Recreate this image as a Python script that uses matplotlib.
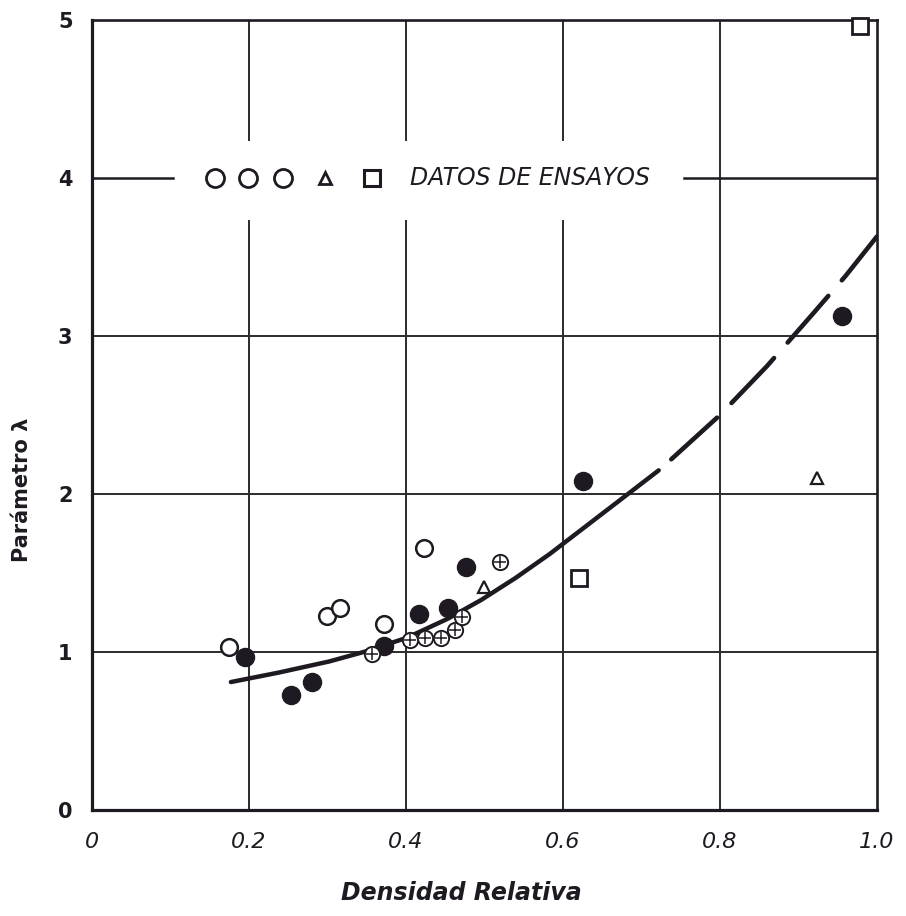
import matplotlib
matplotlib.use('Agg')
import matplotlib.pyplot as plt

# values
open_x = [0.175, 0.300, 0.316, 0.372, 0.423]
open_y = [1.03, 1.23, 1.28, 1.175, 1.66]

fill_x = [0.195, 0.254, 0.280, 0.372, 0.417, 0.453, 0.476, 0.625, 0.956]
fill_y = [0.97, 0.725, 0.81, 1.04, 1.24, 1.28, 1.54, 2.08, 3.13]

cross_x = [0.357, 0.405, 0.424, 0.445, 0.463, 0.472, 0.520]
cross_y = [0.99, 1.075, 1.09, 1.09, 1.14, 1.22, 1.57]

tri_x = [0.500, 0.924]
tri_y = [1.41, 2.10]

sq_x = [0.620, 0.978]
sq_y = [1.47, 4.96]

# fitted curve (solid part, then the dashed extrapolation)
curve_x = [0.177, 0.238, 0.302, 0.346, 0.401, 0.453, 0.496, 0.540, 0.583, 0.625, 0.688, 0.722]
curve_y = [0.81, 0.87, 0.94, 1.00, 1.09, 1.21, 1.33, 1.47, 1.62, 1.78, 2.02, 2.15]
dash_x = [0.738, 0.800, 0.860, 0.920, 0.960, 1.000]
dash_y = [2.22, 2.50, 2.81, 3.15, 3.38, 3.63]

x_ticks = [0, 0.2, 0.4, 0.6, 0.8, 1.0]
x_labels = ['0', '0.2', '0.4', '0.6', '0.8', '1.0']
y_ticks = [0, 1, 2, 3, 4, 5]
y_labels = ['0', '1', '2', '3', '4', '5']

ink = '#1f1a22'
grid_c = '#2b2b2b'

fig = plt.figure(figsize=(9.06, 9.16), dpi=100)
ax = fig.add_axes([0.1015, 0.1157, 0.8664, 0.8624])
ax.set_xlim(0, 1.0)
ax.set_ylim(0, 5)

# grid, with a gap where the legend row sits
gap_lo, gap_hi = 3.73, 4.24
for gx in [0.2, 0.4, 0.6]:
	ax.axvline(gx, ymin=0, ymax=gap_lo / 5, color=grid_c, lw=1.4, zorder=1)
	ax.axvline(gx, ymin=gap_hi / 5, ymax=1, color=grid_c, lw=1.4, zorder=1)
ax.axvline(0.8, color=grid_c, lw=1.4, zorder=1)
for gy in [1, 2, 3]:
	ax.axhline(gy, color=grid_c, lw=1.4, zorder=1)
ax.axhline(4, xmin=0, xmax=0.103, color=ink, lw=1.8, zorder=1)
ax.axhline(4, xmin=0.754, xmax=1, color=ink, lw=1.8, zorder=1)

# curve
ax.plot(curve_x, curve_y, color=ink, lw=3.2, solid_capstyle='round', zorder=2)
ax.plot(dash_x, dash_y, color=ink, lw=3.3, dashes=(13.5, 4.5), dash_capstyle='round', zorder=2)

# test data
ax.plot(open_x, open_y, 'o', ms=12, mfc='white', mec=ink, mew=1.8, zorder=3)
ax.plot(fill_x, fill_y, 'o', ms=13, mfc=ink, mec=ink, zorder=3)
ax.plot(cross_x, cross_y, 'o', ms=11, mfc='white', mec=ink, mew=1.4, zorder=3)
ax.plot(cross_x, cross_y, '+', ms=9, mec=ink, mew=1.1, zorder=4)
ax.plot(tri_x, tri_y, '^', ms=8, mfc='white', mec=ink, mew=1.6, zorder=3)
ax.plot(sq_x, sq_y, 's', ms=11, mfc='white', mec=ink, mew=2.0, zorder=3, clip_on=False)

# legend row
ax.plot([0.157, 0.199, 0.243], [0.8, 0.8, 0.8], 'o', ms=13, mfc='white', mec=ink, mew=2.0,
	transform=ax.transAxes, clip_on=False)
ax.plot([0.297], [0.8], '^', ms=9, mfc='white', mec=ink, mew=2.0, transform=ax.transAxes)
ax.plot([0.357], [0.8], 's', ms=12, mfc='white', mec=ink, mew=2.2, transform=ax.transAxes)
ax.text(0.405, 0.8, 'DATOS DE ENSAYOS', transform=ax.transAxes, fontsize=17,
	style='italic', color=ink, ha='left', va='center')

# axes frame
for side in ['left', 'bottom']:
	ax.spines[side].set_linewidth(2.3)
	ax.spines[side].set_color(ink)
for side in ['top', 'right']:
	ax.spines[side].set_linewidth(1.9)
	ax.spines[side].set_color(ink)

ax.set_xticks(x_ticks)
ax.set_xticklabels(x_labels, fontsize=16, style='italic', color=ink)
ax.set_yticks(y_ticks)
ax.set_yticklabels(y_labels, fontsize=15, fontweight='bold', color=ink)
ax.tick_params(axis='both', length=0)
ax.tick_params(axis='x', pad=16)
ax.tick_params(axis='y', pad=14)

ax.text(0.47, -0.105, 'Densidad Relativa', transform=ax.transAxes, fontsize=17,
	style='italic', fontweight='bold', color=ink, ha='center', va='center')
ax.text(-0.089, 0.405, 'Parámetro λ', transform=ax.transAxes, fontsize=15,
	fontweight='bold', color=ink, rotation=90, ha='center', va='center')

fig.savefig('out.png', dpi=100)
